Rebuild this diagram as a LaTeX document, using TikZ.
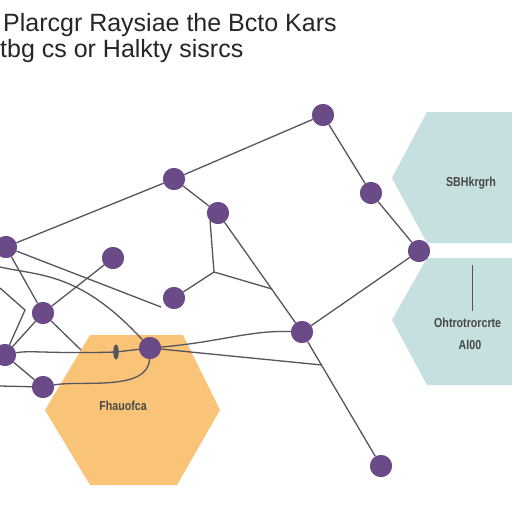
\documentclass[tikz,border=0pt]{standalone}
\usepackage{fontspec}
\setmainfont{Liberation Sans}
\definecolor{nodepurple}{HTML}{6B4A88}
\definecolor{linegray}{HTML}{56545E}
\definecolor{hexorange}{HTML}{F9C477}
\definecolor{hexteal}{HTML}{C6DFDF}
\definecolor{titlegray}{HTML}{262626}
\newcommand{\narrowtext}[1]{\scalebox{0.82}[1]{#1}}
\begin{document}
\begin{tikzpicture}[x=1pt,y=-1pt,
  dot/.style={circle,fill=nodepurple,inner sep=0pt,minimum size=22pt},
  link/.style={draw=linegray,line width=1.3pt},
  title/.style={anchor=base west,inner sep=0pt,text=titlegray,font=\fontsize{25}{30}\selectfont},
  label/.style={font=\bfseries\fontsize{13}{14}\selectfont,text=black!72,inner sep=0pt}]
\useasboundingbox (0,0) rectangle (512,512);
\clip (0,0) rectangle (512,512);
\fill[white] (0,0) rectangle (512,512);
% title
\node[title] (t1) at (3,31) {Plarcgr Raysiae the Bcto Kars};
\node[title] (t2) at (0,57) {tbg cs or Halkty sisrcs};
% hexagons
\fill[hexteal] (427,112) -- (392,178) -- (427,243) -- (530,243) -- (530,112) -- cycle;
\fill[hexteal] (427,258) -- (392,320) -- (427,385) -- (530,385) -- (530,258) -- cycle;
\fill[hexorange] (90,335) -- (183,335) -- (220,410) -- (177,485) -- (90,485) -- (45,410) -- cycle;
\node[label] (hu) at (471,183) {\narrowtext{SBHkrgrh}};
\node[label,anchor=west] (hl1) at (434,323) {\narrowtext{Ohtrotrorcrte}};
\node[label] (hl2) at (470,345) {\narrowtext{Al00}};
\node[label] (ho) at (123,406) {\narrowtext{Fhauofca}};
\coordinate (v1) at (472,265);
\coordinate (v2) at (472,311);
\draw[link,line width=1pt] (v1) -- (v2);
% nodes
\node[dot] (A) at (323,115) {};
\node[dot] (B) at (174,179) {};
\node[dot] (C) at (218,213) {};
\node[dot] (D) at (371,193) {};
\node[dot] (E) at (419,251) {};
\node[dot] (F) at (6,247) {};
\node[dot] (G) at (113,258) {};
\node[dot] (H) at (174,298) {};
\node[dot] (I) at (302,332) {};
\node[dot] (J) at (43,313) {};
\node[dot] (K) at (150,348) {};
\node[dot] (L) at (5,355) {};
\node[dot] (M) at (43,387) {};
\node[dot] (N) at (381,466) {};
% junctions
\coordinate (j1) at (214,272);
\coordinate (j2) at (272,289);
\coordinate (j3) at (322,365);
\coordinate (e1) at (161,307);
\coordinate (e2) at (0,267);
\coordinate (e3) at (0,288);
\coordinate (e4) at (25,310);
\coordinate (e5) at (81,350);
\coordinate (e6) at (0,386);
\coordinate (mk) at (116,352);
\draw[link] (F) -- (B);
\draw[link] (B) -- (A);
\draw[link] (A) -- (D);
\draw[link] (D) -- (E);
\draw[link] (B) -- (C);
\draw[link] (C.south west) -- (j1);
\draw[link] (j1) -- (H);
\draw[link] (j1) -- (j2);
\draw[link] (C) -- (I);
\draw[link] (I) -- (N);
\draw[link] (E) -- (I);
\draw[link] (K) .. controls (220,342) and (250,330) .. (I);
\draw[link] (K) -- (j3);
\draw[link] (F) -- (e1);
\draw[link] (F) -- (J);
\draw[link] (e2) .. controls (40,276) and (80,272) .. (K);
\draw[link] (G) -- (J);
\draw[link] (e3) -- (e4) -- (L);
\draw[link] (J) -- (L);
\draw[link] (J) -- (e5);
\draw[link] (L) .. controls (30,350) and (50,354) .. (mk) -- (K);
\draw[link] (L) -- (M);
\draw[link] (e6) -- (M);
\draw[link] (M) .. controls (80,380) and (148,392) .. (K);
\fill[linegray] (mk) ellipse (2.8pt and 7.5pt);
% redraw nodes on top
\foreach \n in {A,B,C,D,E,F,G,H,I,J,K,L,M,N} {\fill[nodepurple] (\n) circle (11pt);}
\end{tikzpicture}
\end{document}
